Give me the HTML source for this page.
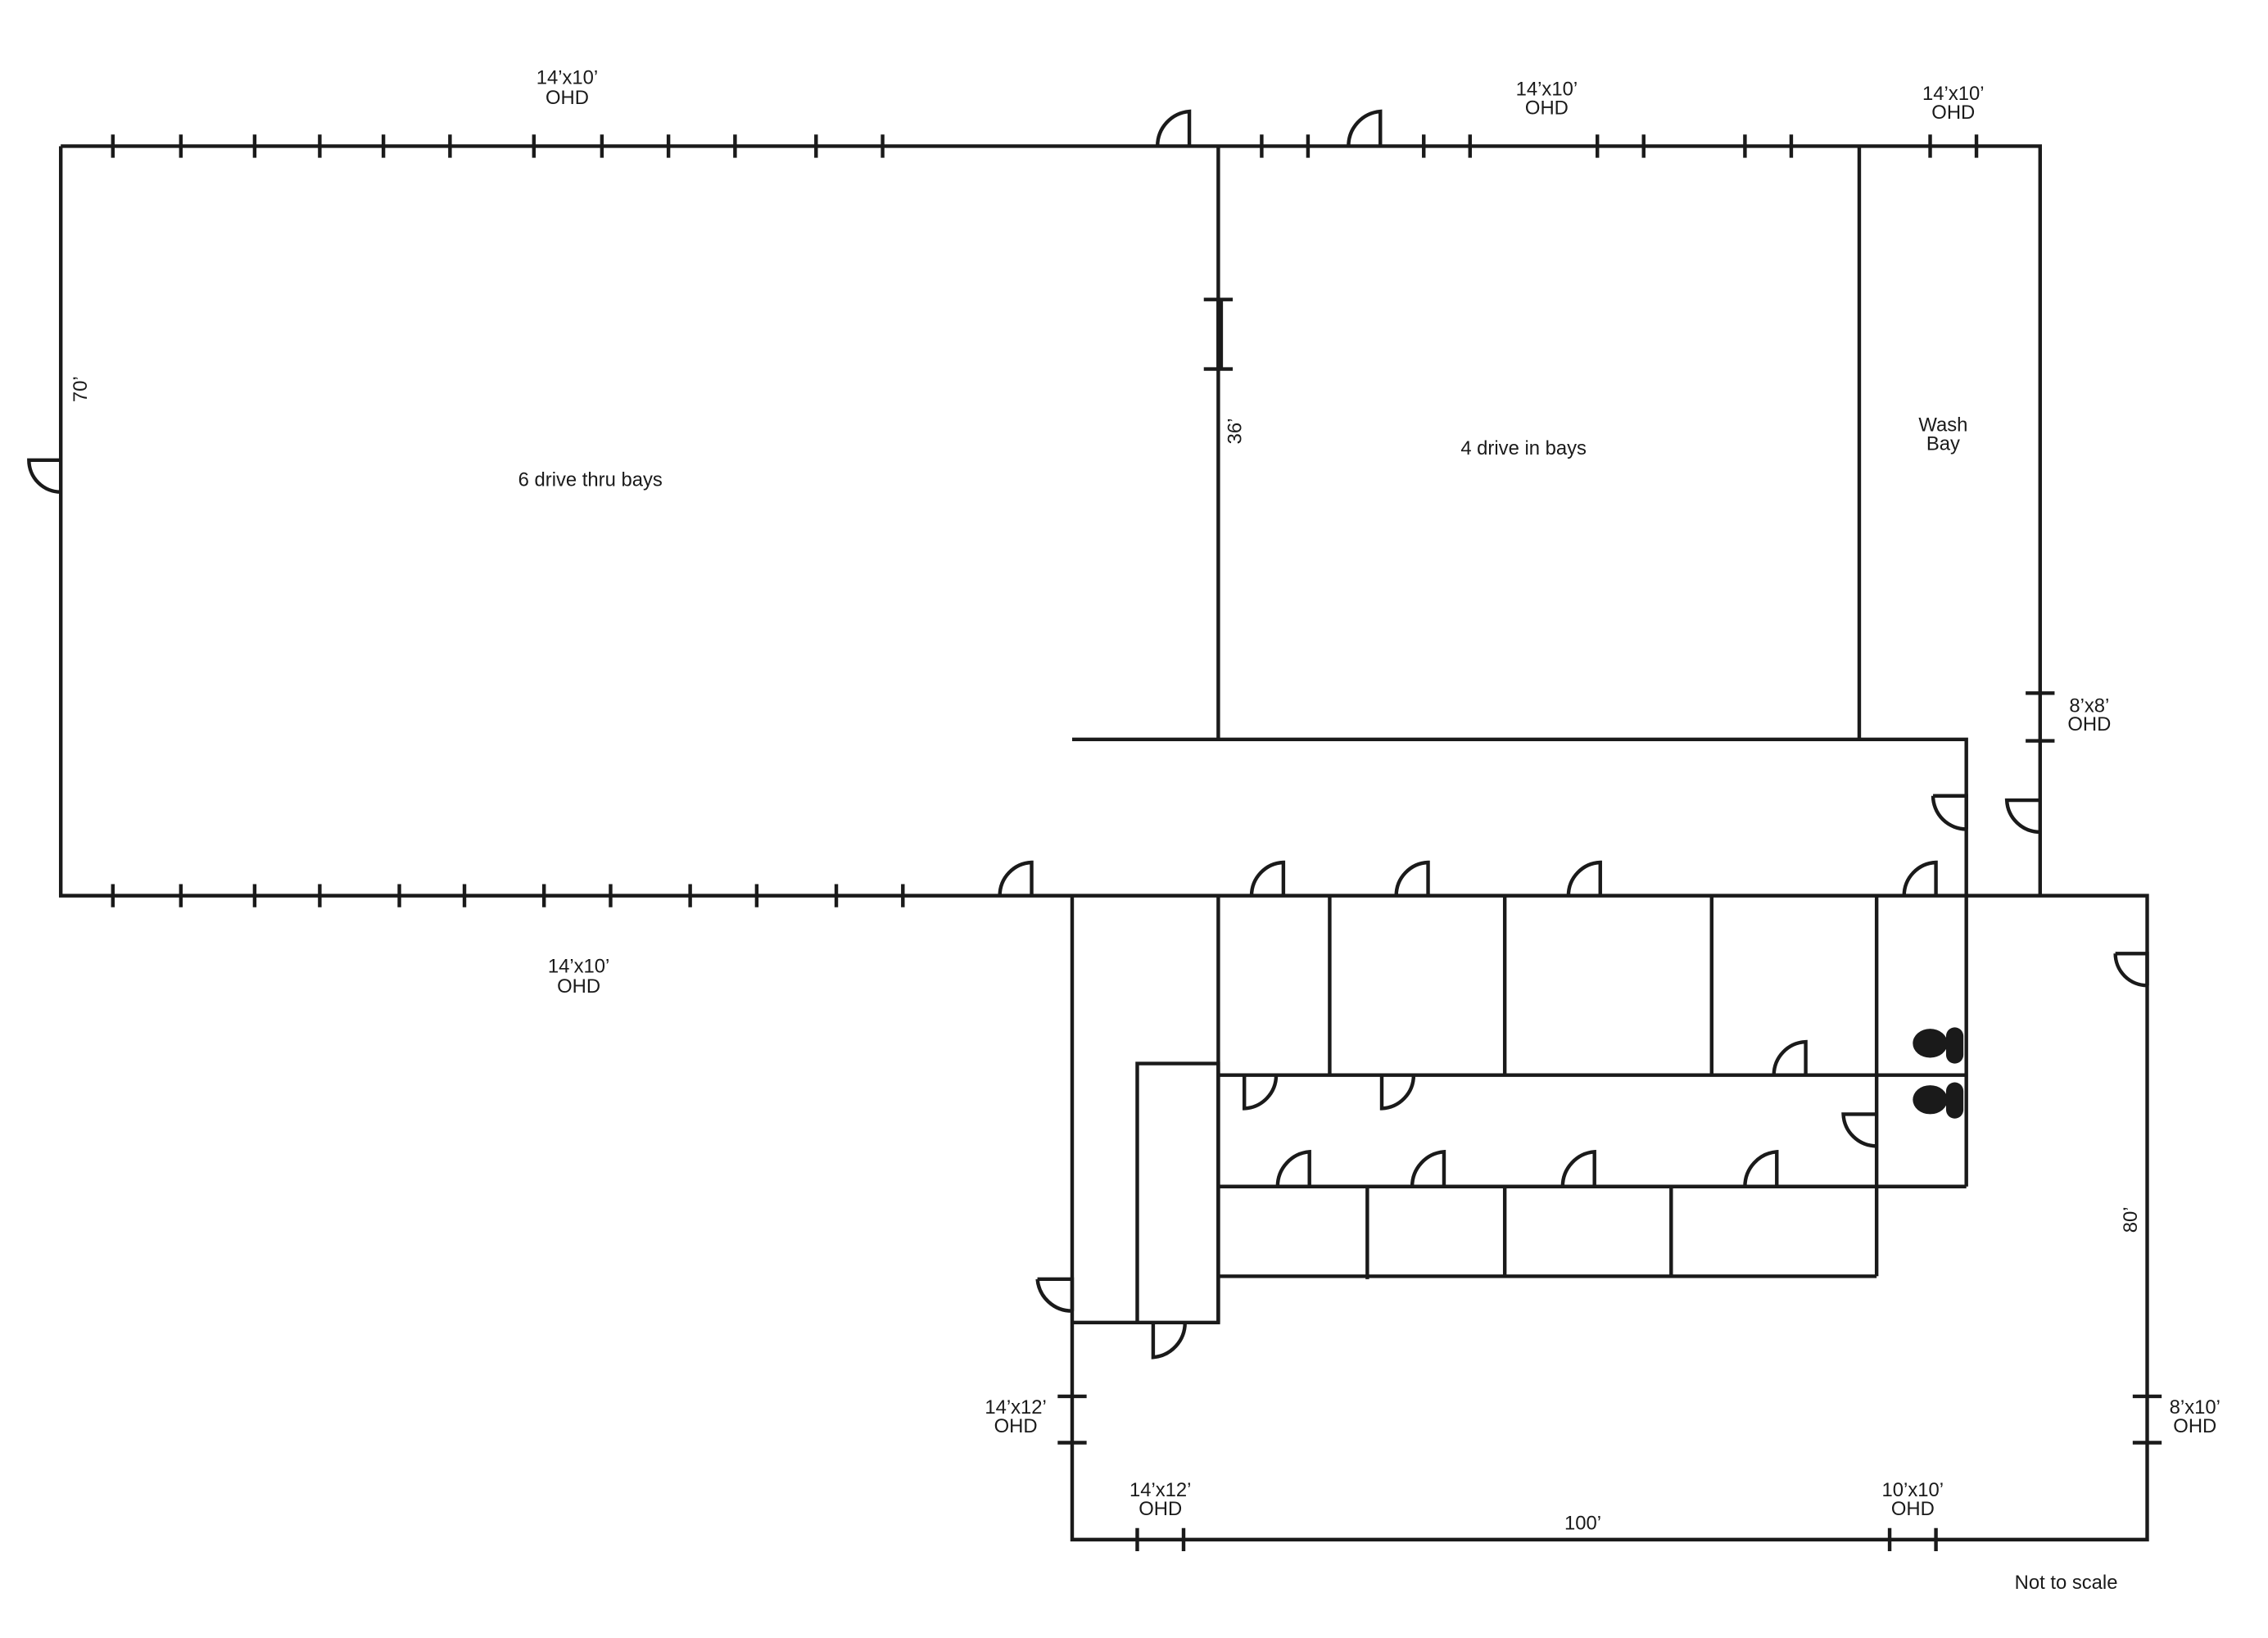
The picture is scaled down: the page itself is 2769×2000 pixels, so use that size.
<!DOCTYPE html>
<html><head><meta charset="utf-8"><style>html,body{margin:0;padding:0;background:#fff}svg{display:block}</style></head>
<body>
<svg width="2769" height="2000" viewBox="0 0 1567.5 1132" xmlns="http://www.w3.org/2000/svg" preserveAspectRatio="none">
<g fill="none" stroke="#1a1a1a" stroke-width="2.5">
<path d="M42,101 H1410 V619 M42,101 V619 H1484 V1064 H741 V619"/>
<path d="M842,101 V511 M1285,101 V511 M741,511 H1359 V820"/>
<path d="M842,619 V914 M842,743 H1359 M842,820 H1359 M842,882 H1297 M919,619 V743 M1040,619 V743 M1183,619 V743 M1297,619 V882 M945,820 V884 M1040,820 V882 M1155,820 V882"/>
<path d="M786,735 H842 V914 H786 Z M741,914 H786"/>
<path d="M78,93 v16 M125,93 v16 M176,93 v16 M221,93 v16 M265,93 v16 M311,93 v16 M369,93 v16 M416,93 v16 M462,93 v16 M508,93 v16 M564,93 v16 M610,93 v16 M872,93 v16 M904,93 v16 M984,93 v16 M1016,93 v16 M1104,93 v16 M1136,93 v16 M1206,93 v16 M1238,93 v16 M1334,93 v16 M1366,93 v16"/>
<path d="M78,611 v16 M125,611 v16 M176,611 v16 M221,611 v16 M276,611 v16 M321,611 v16 M376,611 v16 M422,611 v16 M477,611 v16 M523,611 v16 M578,611 v16 M624,611 v16"/>
<path d="M832,207 h20 M832,255 h20 M1400,479 h20 M1400,512 h20 M731,965 h20 M731,997 h20 M786,1056 v16 M818,1056 v16 M1306,1056 v16 M1338,1056 v16 M1474,965 h20 M1474,997 h20"/>
<path d="M822,101 V77 A24,24 0 0 0 800,101"/>
<path d="M954,101 V77 A24,24 0 0 0 932,101"/>
<path d="M713,619 V596 A23,23 0 0 0 691,619"/>
<path d="M887,619 V596 A23,23 0 0 0 865,619"/>
<path d="M987,619 V596 A23,23 0 0 0 965,619"/>
<path d="M1106,619 V596 A23,23 0 0 0 1084,619"/>
<path d="M1338,619 V596 A23,23 0 0 0 1316,619"/>
<path d="M1248,743 V720 A23,23 0 0 0 1226,743"/>
<path d="M905,820 V796 A24,24 0 0 0 883,820"/>
<path d="M998,820 V796 A24,24 0 0 0 976,820"/>
<path d="M1102,820 V796 A24,24 0 0 0 1080,820"/>
<path d="M1228,820 V796 A24,24 0 0 0 1206,820"/>
<path d="M860,743 V766 A23,23 0 0 0 882,743"/>
<path d="M955,743 V766 A23,23 0 0 0 977,743"/>
<path d="M797,914 V938 A24,24 0 0 0 819,914"/>
<path d="M42,318 H20 A22,22 0 0 0 42,340"/>
<path d="M717,884 H741 V906 M717,884 A24,24 0 0 0 741,906"/>
<path d="M1336,550 H1359 V573 M1336,550 A23,23 0 0 0 1359,573"/>
<path d="M1410,553 H1387 A23,23 0 0 0 1410,575"/>
<path d="M1462,659 H1484 V681 M1462,659 A22,22 0 0 0 1484,681"/>
<path d="M1297,770 H1274 A23,23 0 0 0 1297,792"/>
</g>
<path d="M843,207 V255" stroke="#1a1a1a" stroke-width="4.5"/>
<g fill="#1a1a1a">
<ellipse cx="1334" cy="721" rx="12" ry="10"/><rect x="1345" y="710" width="12" height="25" rx="6"/>
<ellipse cx="1334" cy="760" rx="12" ry="10"/><rect x="1345" y="748" width="12" height="25" rx="6"/>
</g>
<g font-family="Liberation Sans, sans-serif" font-size="13.5" fill="#1a1a1a" text-anchor="middle">
<text x="392" y="58">14’x10’</text><text x="392" y="72">OHD</text>
<text x="1069" y="66">14’x10’</text><text x="1069" y="79">OHD</text>
<text x="1350" y="69">14’x10’</text><text x="1350" y="82">OHD</text>
<text x="400" y="672">14’x10’</text><text x="400" y="686">OHD</text>
<text x="408" y="336">6 drive thru bays</text>
<text x="1053" y="314">4 drive in bays</text>
<text x="1343" y="298">Wash</text><text x="1343" y="311">Bay</text>
<text x="1444" y="492">8’x8’</text><text x="1444" y="505">OHD</text>
<text x="702" y="977">14’x12’</text><text x="702" y="990">OHD</text>
<text x="802" y="1034">14’x12’</text><text x="802" y="1047">OHD</text>
<text x="1322" y="1034">10’x10’</text><text x="1322" y="1047">OHD</text>
<text x="1517" y="977">8’x10’</text><text x="1517" y="990">OHD</text>
<text x="1094" y="1057">100’</text>
<text x="1428" y="1098">Not to scale</text>
<text transform="translate(60,269) rotate(-90)">70’</text>
<text transform="translate(858,298) rotate(-90)">36’</text>
<text transform="translate(1477,843) rotate(-90)">80’</text>
</g>
</svg>
</body></html>
